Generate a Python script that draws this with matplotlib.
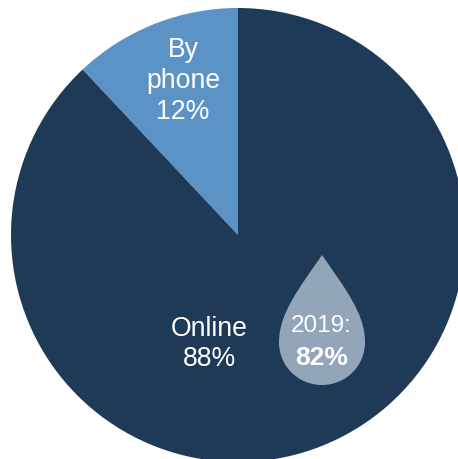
import matplotlib.pyplot as plt
from matplotlib.path import Path
from matplotlib.patches import PathPatch

labels = ['By\nphone\n12%', 'Online\n88%']
shares = [12, 88]
colors = ['#5b93c7', '#1e3a56']
drop_year = '2019:'
drop_value = '82%'

plt.rcParams['font.family'] = ['Liberation Sans', 'DejaVu Sans']

W, H = 458, 460
fig = plt.figure(figsize=(W / 100, H / 100), dpi=100)
# axes in pixel units, y pointing down
ax = fig.add_axes([0, 0, 1, 1])

cx, cy, r = 238, 236, 227
# y is flipped below, so -90 is the top of the circle and clockwise runs to the left
ax.pie(shares, colors=colors, startangle=-90, counterclock=False,
       radius=r, center=(cx, cy))
ax.set_aspect('auto')
ax.set_xlim(0, W)
ax.set_ylim(H, 0)
ax.axis('off')

ax.text(183, 81, labels[0], color='white', fontsize=19.2, ha='center', va='center', linespacing=1.23)
ax.text(209.5, 344, labels[1], color='white', fontsize=19.2, ha='center', va='center', linespacing=1.23)

# drop shape behind the 2019 figure
verts = [(322, 256),
         (300, 288), (279, 314), (279, 343),
         (279, 368), (299, 386), (322, 386),
         (345, 386), (365, 368), (365, 343),
         (365, 314), (344, 288), (322, 256)]
codes = [Path.MOVETO] + [Path.CURVE4] * 12
ax.add_patch(PathPatch(Path(verts, codes), facecolor='#93a5b9', edgecolor='none', zorder=5))
ax.text(321, 326, drop_year, color='white', fontsize=17.5, ha='center', va='center', zorder=6)
ax.text(322, 358, drop_value, color='white', fontsize=19, fontweight='bold', ha='center', va='center', zorder=6)

fig.savefig('out.png', dpi=100)
